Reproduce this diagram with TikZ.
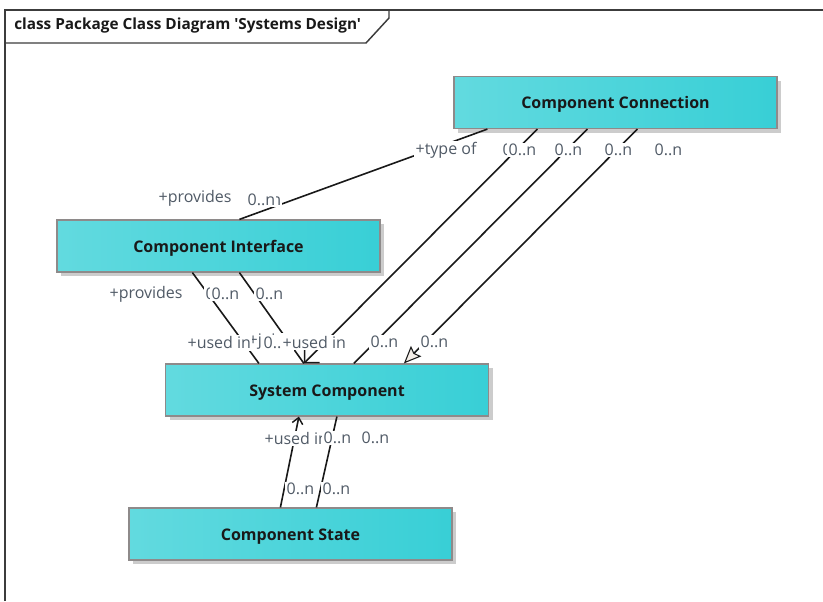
\documentclass[tikz,border=0pt]{standalone}
\usepackage{fontspec}
\setmainfont{Open Sans}[Ligatures=TeXOff]
\usetikzlibrary{arrows.meta,shadows,calc}
\definecolor{boxL}{HTML}{62DADF}
\definecolor{boxR}{HTML}{38CFD6}
\definecolor{boxBorder}{HTML}{8E8A8A}
\definecolor{labelC}{HTML}{505A66}
\definecolor{frameC}{HTML}{3C3C3C}
\definecolor{arrowF}{HTML}{F4EEE8}
\begin{document}
\begin{tikzpicture}[x=0.75pt,y=-0.75pt,
 classbox/.style={draw=boxBorder, line width=0.9pt, left color=boxL, right color=boxR,
   minimum width=242.25pt, minimum height=39pt, inner sep=0pt,
   text height=12.5pt, text depth=3pt,
   font=\fontsize{12}{14}\selectfont\bfseries, text=black!90,
   general shadow={fill=black!20, shadow xshift=3pt, shadow yshift=-3pt}},
 lbl/.style={font=\fontsize{12}{14}\selectfont, text=labelC, fill=white, inner xsep=1pt, inner ysep=1pt, anchor=west},
 assoc/.style={line width=1.2pt, draw=black!90},
 navopen/.style={assoc, -{Straight Barb[length=8pt,width=16pt,line width=1.1pt]}},
 navsmall/.style={assoc, -{Straight Barb[length=4.5pt,width=8pt,line width=1.1pt]}},
 navfill/.style={assoc, -{Stealth[length=13pt,width=11pt,inset=2pt,line width=0.8pt,fill=arrowF]}},
 framel/.style={draw=frameC, line width=1.1pt}
]
\useasboundingbox (0,0) rectangle (823,601);
% frame
\coordinate (f1) at (5,601);
\coordinate (f2) at (5,10);
\coordinate (f3) at (823,10);
\coordinate (t1) at (5,43);
\coordinate (t2) at (366,43);
\coordinate (t3) at (389,18);
\coordinate (t4) at (389,10);
\draw[framel] (f1) -- (f2) -- (f3);
\draw[framel] (t1) -- (t2) -- (t3) -- (t4);
\node[anchor=west, font=\fontsize{11.5}{13}\selectfont\bfseries, text=black!90, inner sep=0pt] (title) at (14,26) {class Package Class Diagram 'Systems Design'};

% classes
\node[classbox] (cc) at (615.5,102.5) {Component Connection};
\node[classbox] (ci) at (218.5,246) {Component Interface};
\node[classbox] (sc) at (327,390) {System Component};
\node[classbox] (cs) at (290.5,534) {Component State};

% connectors
\draw[assoc] ($(cc.south west)+(34,0)$) -- ($(ci.north west)+(183,0)$);
\draw[navopen] ($(cc.south west)+(84,0)$) -- ($(sc.north west)+(139,0)$);
\draw[assoc] ($(cc.south west)+(134,0)$) -- ($(sc.north west)+(189,0)$);
\draw[navfill] ($(cc.south west)+(184,0)$) -- ($(sc.north west)+(239,0)$);
\draw[assoc] ($(ci.south west)+(136,0)$) -- ($(sc.north west)+(94,0)$);
\draw[assoc] ($(ci.south west)+(183,0)$) -- ($(sc.north west)+(139,0)$);
\draw[navsmall] ($(cs.north west)+(152,0)$) -- ($(sc.south west)+(134,0)$);
\draw[assoc] ($(cs.north west)+(188,0)$) -- ($(sc.south west)+(172,0)$);

% labels at Component Connection
\node[lbl] (l1) at (414,150) {+type of};
\node[lbl] (l2a) at (501,150) {0..n};
\node[lbl] (l2) at (507,150) {0..n};
\node[lbl] (l3) at (553,150) {0..n};
\node[lbl] (l4) at (603,150) {0..n};
\node[lbl] (l5) at (653,150) {0..n};
% labels at Component Interface top
\node[lbl] (l6) at (157,198) {+provides};
\node[lbl] (l7a) at (252,200) {0..n};
\node[lbl] (l7) at (246,200) {0..n};
% labels at Component Interface bottom
\node[lbl] (l8) at (108,294) {+provides};
\node[lbl] (l9a) at (204,294) {0..n};
\node[lbl] (l9) at (210,294) {0..n};
\node[lbl] (l10) at (254,294) {0..n};
% labels at System Component top
\node[lbl] (l12a) at (247,342) {+joins};
\node[lbl] (l11) at (186,342) {+used in};
\node[lbl] (l12b) at (262,343) {0..n};
\node[lbl] (l12) at (281,342) {+used in};
\node[lbl] (l13) at (369,342) {0..n};
\node[lbl] (l14) at (419,342) {0..n};
% labels at System Component bottom
\node[lbl] (l15) at (263,438) {+used in};
\node[lbl] (l16) at (322,438) {0..n};
\node[lbl] (l17) at (360,438) {0..n};
% labels at Component State top
\node[lbl] (l18) at (285,489) {0..n};
\node[lbl] (l19) at (321,489) {0..n};
\end{tikzpicture}
\end{document}
